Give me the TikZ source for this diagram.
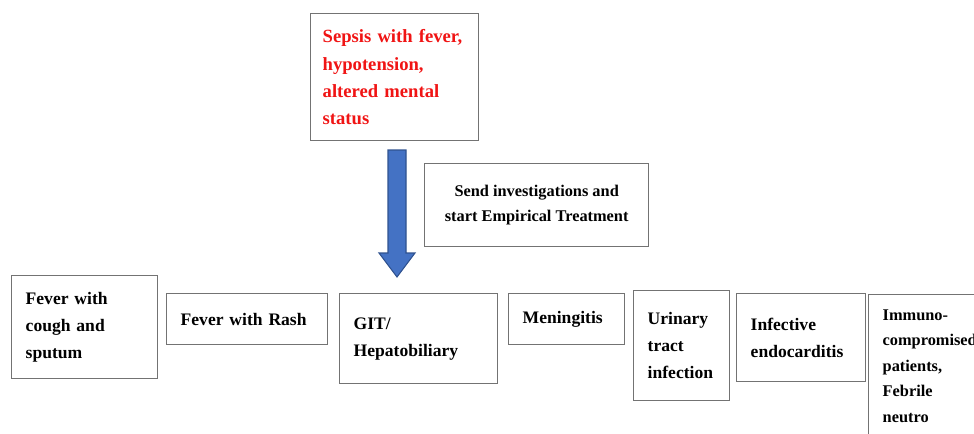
\documentclass[tikz,border=0pt]{standalone}
\usepackage{fontspec}
\setmainfont{Liberation Serif}
\usepackage{xcolor}
\usetikzlibrary{calc}

\definecolor{arrowblue}{HTML}{4472C4}
\definecolor{arrowedge}{HTML}{2F528F}
\definecolor{sepsisred}{HTML}{F01414}

\begin{document}
\begin{tikzpicture}[
  x=0.02cm, y=-0.02cm,
  cell/.style={draw=black!55, line width=0.8pt, anchor=north west, align=left,
               inner xsep=0.28cm, inner ysep=0pt,
               font=\bfseries\fontsize{10}{15.5}\selectfont},
  small/.style={font=\bfseries\fontsize{9.3}{14.5}\selectfont},
]
\useasboundingbox (0,0) rectangle (974,433);
\clip (0,0) rectangle (974,433);

\node[cell, text=sepsisred, inner xsep=0.24cm, text width=2.88cm, minimum height=2.54cm,
      font=\bfseries\fontsize{10.6}{15.5}\selectfont] (sepsis) at (310,13)
     {Sepsis with fever,\\hypotension,\\altered mental\\status};

\node[cell, small, align=center, minimum width=4.48cm, minimum height=1.66cm] (send) at (424,163)
     {Send investigations and\\start Empirical Treatment};

% block arrow
\coordinate (atop) at (397,150);
\coordinate (atip) at (397,277);
\filldraw[fill=arrowblue, draw=arrowedge, line width=0.6pt]
  ($(atop)+(-9,0)$) -- ($(atop)+(9,0)$) -- ($(atip)+(9,-24)$) -- ($(atip)+(18,-24)$)
  -- (atip) -- ($(atip)+(-18,-24)$) -- ($(atip)+(-9,-24)$) -- cycle;

\node[cell, text width=2.36cm, minimum height=2.06cm] (cough) at (11,275)
     {Fever with\\cough and\\sputum};
\node[cell, text width=2.66cm, minimum height=1.02cm] (rash) at (166,293)
     {Fever with Rash};
\node[cell, text width=2.60cm, minimum height=1.80cm] (git) at (339,293)
     {GIT/\\Hepatobiliary};
\node[cell, text width=1.76cm, minimum height=1.02cm] (mening) at (508,293)
     {Meningitis};
\node[cell, text width=1.36cm, minimum height=2.20cm] (uti) at (633,290)
     {Urinary\\tract\\infection};
\node[cell, text width=2.02cm, minimum height=1.76cm] (endo) at (736,293)
     {Infective\\endocarditis};
\node[cell, small, text width=2.04cm, inner ysep=0.3cm] (immuno) at (868,294)
     {Immuno-\\compromised\\patients,\\Febrile\\neutro};
\end{tikzpicture}
\end{document}
